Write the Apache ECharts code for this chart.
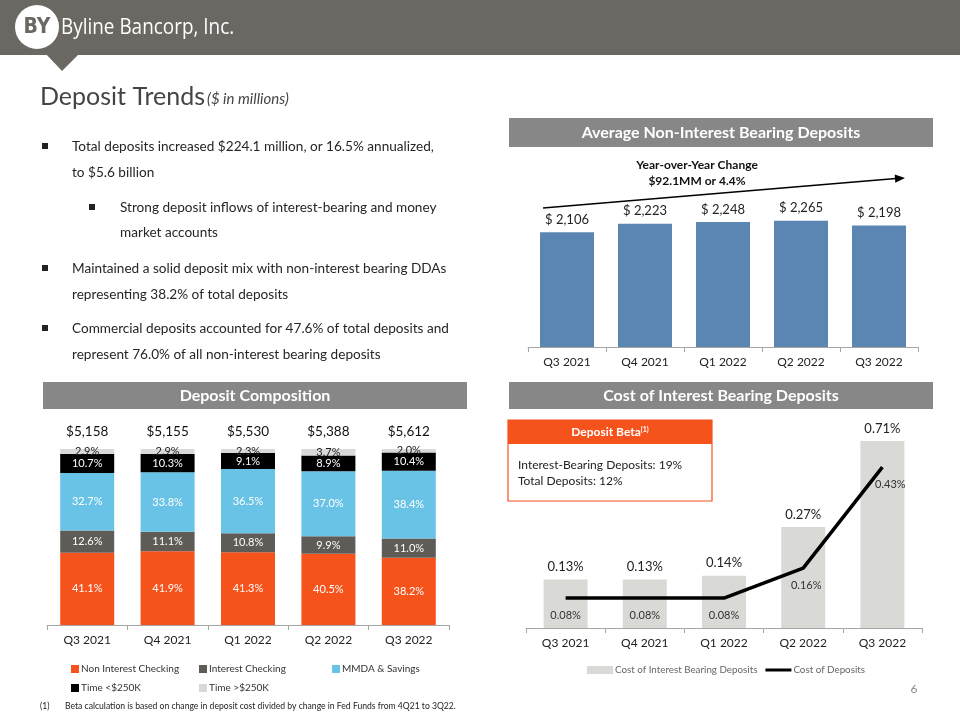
<!DOCTYPE html>
<html>
<head>
<meta charset="utf-8">
<title>Deposit Trends</title>
<script src="https://cdn.jsdelivr.net/npm/echarts@6/dist/echarts.min.js"></script>
<style>
  html, body { margin: 0; padding: 0; background: #fff; }
  #slide { width: 960px; height: 720px; }
</style>
</head>
<body>
<div id="slide"></div>
<script>
// data
const quarters = ['Q3 2021', 'Q4 2021', 'Q1 2022', 'Q2 2022', 'Q3 2022'];
const avgNonIntBearing = [2106, 2223, 2248, 2265, 2198];
const compTotals = [5158, 5155, 5530, 5388, 5612];
const nonIntChecking = [41.1, 41.9, 41.3, 40.5, 38.2];
const intChecking = [12.6, 11.1, 10.8, 9.9, 11.0];
const mmdaSavings = [32.7, 33.8, 36.5, 37.0, 38.4];
const timeUnder250 = [10.7, 10.3, 9.1, 8.9, 10.4];
const timeOver250 = [2.9, 2.9, 2.3, 3.7, 2.0];
const costIntBearing = [0.13, 0.13, 0.14, 0.27, 0.71];
const costDeposits = [0.08, 0.08, 0.08, 0.16, 0.43];

const bullets = [
  { x: 72, bx: 45, y: 147, text: 'Total deposits increased $224.1 million, or 16.5% annualized,', bullet: true },
  { x: 72, y: 173, text: 'to $5.6 billion' },
  { x: 120, bx: 92, y: 208, text: 'Strong deposit inflows of interest-bearing and money', bullet: true },
  { x: 120, y: 233, text: 'market accounts' },
  { x: 72, bx: 45, y: 269, text: 'Maintained a solid deposit mix with non-interest bearing DDAs', bullet: true },
  { x: 72, y: 295, text: 'representing 38.2% of total deposits' },
  { x: 72, bx: 45, y: 329, text: 'Commercial deposits accounted for 47.6% of total deposits and', bullet: true },
  { x: 72, y: 355, text: 'represent 76.0% of all non-interest bearing deposits' }
];

const FONT = 'Lato, "Open Sans", sans-serif';
const headGray = '#6b6762';
const boxGray = '#878787';
const orange = '#f6521c';

let graphics = [
  // header bar + pointer
  { type: 'rect', shape: { x: 0, y: 0, width: 960, height: 55 }, style: { fill: headGray } },
  { type: 'polygon', shape: { points: [[46, 54], [79, 54], [62, 71]] }, style: { fill: headGray } },
  { type: 'circle', shape: { cx: 37, cy: 27, r: 22 }, style: { fill: '#fff' } },
  { type: 'text', x: 37, y: 28, style: { text: 'BY', fill: headGray, font: 'bold 21px "DejaVu Sans Condensed", sans-serif', textAlign: 'center', textVerticalAlign: 'middle' } },
  { type: 'text', x: 61, y: 28, scaleX: 0.86, style: { text: 'Byline Bancorp, Inc.', fill: '#fff', font: '22px "Open Sans", sans-serif', textVerticalAlign: 'middle' } },
  // title
  { type: 'text', x: 40, y: 97, style: { text: 'Deposit Trends', fill: '#444', font: '25px ' + FONT, textVerticalAlign: 'middle' } },
  { type: 'text', x: 207, y: 99, style: { text: '($ in millions)', fill: '#444', font: 'italic 15px ' + FONT, textVerticalAlign: 'middle' } },
  // section boxes
  { type: 'rect', shape: { x: 509, y: 118, width: 424, height: 29 }, style: { fill: boxGray } },
  { type: 'text', x: 721, y: 133, style: { text: 'Average Non-Interest Bearing Deposits', fill: '#fff', font: 'bold 16px ' + FONT, textAlign: 'center', textVerticalAlign: 'middle' } },
  { type: 'rect', shape: { x: 43, y: 382, width: 424, height: 27 }, style: { fill: boxGray } },
  { type: 'text', x: 255, y: 396, style: { text: 'Deposit Composition', fill: '#fff', font: 'bold 16px ' + FONT, textAlign: 'center', textVerticalAlign: 'middle' } },
  { type: 'rect', shape: { x: 509, y: 382, width: 424, height: 27 }, style: { fill: boxGray } },
  { type: 'text', x: 721, y: 396, style: { text: 'Cost of Interest Bearing Deposits', fill: '#fff', font: 'bold 16px ' + FONT, textAlign: 'center', textVerticalAlign: 'middle' } },
  // yoy arrow
  { type: 'line', shape: { x1: 543, y1: 208, x2: 896, y2: 178.6 }, style: { stroke: '#000', lineWidth: 1.5 } },
  { type: 'polygon', shape: { points: [[905, 178], [895.3, 182.8], [894.7, 174.4]] }, style: { fill: '#000' } },
  { type: 'text', x: 697, y: 165, style: { text: 'Year-over-Year Change', fill: '#111', font: 'bold 12px ' + FONT, textAlign: 'center', textVerticalAlign: 'middle' } },
  { type: 'text', x: 697, y: 181, style: { text: '$92.1MM or 4.4%', fill: '#111', font: 'bold 12px ' + FONT, textAlign: 'center', textVerticalAlign: 'middle' } },
  // deposit beta box
  { type: 'rect', shape: { x: 508, y: 420, width: 204, height: 81 }, style: { fill: '#fff', stroke: orange, lineWidth: 1.2 } },
  { type: 'rect', shape: { x: 508, y: 420, width: 204, height: 24 }, style: { fill: orange } },
  { type: 'text', x: 610, y: 432, style: {
      text: '{a|Deposit Beta}{s|(1)}', textAlign: 'center', textVerticalAlign: 'middle',
      rich: { a: { fill: '#fff', font: 'bold 12px ' + FONT }, s: { fill: '#fff', font: 'bold 7px ' + FONT, verticalAlign: 'top', padding: [0, 0, 5, 0] } }
  } },
  { type: 'text', x: 518, y: 465, style: { text: 'Interest-Bearing Deposits: 19%', fill: '#222', font: '12px ' + FONT, textVerticalAlign: 'middle' } },
  { type: 'text', x: 518, y: 481, style: { text: 'Total Deposits: 12%', fill: '#222', font: '12px ' + FONT, textVerticalAlign: 'middle' } },
  // footnote + page number
  { type: 'text', x: 40, y: 706, style: { text: '(1)', fill: '#222', font: '8.5px ' + FONT, textVerticalAlign: 'middle' } },
  { type: 'text', x: 65, y: 706, style: { text: 'Beta calculation is based on change in deposit cost divided by change in Fed Funds from 4Q21 to 3Q22.', fill: '#222', font: '8.6px ' + FONT, textVerticalAlign: 'middle' } },
  { type: 'text', x: 914, y: 689, style: { text: '6', fill: '#888', font: '12px ' + FONT, textAlign: 'center', textVerticalAlign: 'middle' } }
];

bullets.forEach(function (b) {
  graphics.push({ type: 'text', x: b.x, y: b.y, style: { text: b.text, fill: '#262626', font: '13.6px ' + FONT, textVerticalAlign: 'middle' } });
  if (b.bullet) {
    graphics.push({ type: 'rect', shape: { x: b.bx - 3, y: b.y - 4, width: 6, height: 6 }, style: { fill: '#222' } });
  }
});

function catAxis(gridIndex) {
  return {
    type: 'category', gridIndex: gridIndex, data: quarters,
    axisLine: { lineStyle: { color: '#a6a6a6' } },
    axisTick: { show: true, length: 5, lineStyle: { color: '#a6a6a6' } },
    axisLabel: { color: '#222', fontSize: 12, fontFamily: FONT, margin: 9 }
  };
}

function compSeries(name, data, color, labelColor) {
  return {
    name: name, type: 'bar', xAxisIndex: 1, yAxisIndex: 1, stack: 'comp', data: data,
    barWidth: 54, itemStyle: { color: color },
    label: { show: true, position: 'inside', color: labelColor, fontSize: 11, fontFamily: FONT,
      formatter: function (p) { return p.value.toFixed(1) + '%'; } }
  };
}

function compLegend(name, left, top) {
  return {
    data: [name], left: left, top: top, padding: 0, icon: 'rect', itemWidth: 8, itemHeight: 8, itemGap: 4,
    textStyle: { color: '#333', fontSize: 10, fontFamily: FONT, padding: [0, 0, 0, -3] }
  };
}

// line labels on the steep part sit a bit to the right of the point
const lineLabelShift = [0, 0, 0, 3, 8];

const chart = echarts.init(document.getElementById('slide'));
chart.setOption({
  backgroundColor: '#fff',
  animation: false,
  textStyle: { fontFamily: FONT },
  graphic: graphics,
  grid: [
    { left: 528, top: 204, width: 390, height: 143 },
    { left: 47, top: 449, width: 402, height: 176 },
    { left: 526, top: 441, width: 396, height: 187 }
  ],
  xAxis: [catAxis(0), catAxis(1), catAxis(2)],
  yAxis: [
    { type: 'value', gridIndex: 0, min: 500, max: 2500, show: false },
    { type: 'value', gridIndex: 1, min: 0, max: 100, show: false },
    { type: 'value', gridIndex: 2, min: 0, max: 0.5, show: false }
  ],
  legend: [
    compLegend('Non Interest Checking', 71, 664),
    compLegend('Interest Checking', 199, 664),
    compLegend('MMDA & Savings', 332, 664),
    compLegend('Time <$250K', 71, 683),
    compLegend('Time >$250K', 199, 683),
    {
      data: [
        { name: 'Cost of Interest Bearing Deposits', icon: 'rect' },
        { name: 'Cost of Deposits', icon: 'path://M0,0H26V3H0Z' }
      ],
      left: 587, top: 665, padding: 0, itemWidth: 26, itemHeight: 8, itemGap: 8,
      textStyle: { color: '#666', fontSize: 9.8, fontFamily: FONT, padding: [0, 0, 0, -3] }
    }
  ],
  series: [
    {
      name: 'Average Non-Interest Bearing Deposits', type: 'bar', xAxisIndex: 0, yAxisIndex: 0,
      data: avgNonIntBearing, barWidth: 54, itemStyle: { color: '#5b86b3' },
      label: { show: true, position: 'top', distance: 6, color: '#222', fontSize: 13, fontFamily: FONT,
        formatter: function (p) { return '$ ' + p.value.toLocaleString('en-US'); } }
    },
    compSeries('Non Interest Checking', nonIntChecking, orange, '#fff'),
    compSeries('Interest Checking', intChecking, '#5f5c58', '#fff'),
    compSeries('MMDA & Savings', mmdaSavings, '#68c3e6', '#fff'),
    compSeries('Time <$250K', timeUnder250, '#000', '#fff'),
    compSeries('Time >$250K', timeOver250, '#d9d9d9', '#222'),
    {
      name: 'totals', type: 'scatter', xAxisIndex: 1, yAxisIndex: 1, symbolSize: 0,
      itemStyle: { opacity: 1 },
      data: compTotals.map(function () { return 100; }),
      label: { show: true, position: 'top', distance: 10, color: '#111', fontSize: 13.5, fontFamily: FONT,
        formatter: function (p) { return '$' + compTotals[p.dataIndex].toLocaleString('en-US'); } }
    },
    {
      name: 'Cost of Interest Bearing Deposits', type: 'bar', xAxisIndex: 2, yAxisIndex: 2,
      data: costIntBearing, barWidth: 44, clip: true, itemStyle: { color: '#d9d9d6' },
      label: { show: true, position: 'top', distance: 6, color: '#222', fontSize: 13, fontFamily: FONT,
        formatter: function (p) { return p.value.toFixed(2) + '%'; } }
    },
    {
      name: 'Cost of Deposits', type: 'line', xAxisIndex: 2, yAxisIndex: 2, z: 3,
      data: costDeposits, symbol: 'none', lineStyle: { color: '#000', width: 3.5 }, itemStyle: { color: '#000' }
    },
    {
      // labels for the cost of deposits line
      name: 'Cost of Deposits labels', type: 'scatter', xAxisIndex: 2, yAxisIndex: 2, symbolSize: 0, z: 10,
      itemStyle: { opacity: 1 },
      data: costDeposits.map(function (v, i) {
        return { value: v, label: { offset: [lineLabelShift[i], 0] } };
      }),
      label: { show: true, position: 'bottom', distance: 12, color: '#333', fontSize: 11, fontFamily: FONT,
        formatter: function (p) { return p.value.toFixed(2) + '%'; } }
    }
  ]
});
</script>
</body>
</html>
